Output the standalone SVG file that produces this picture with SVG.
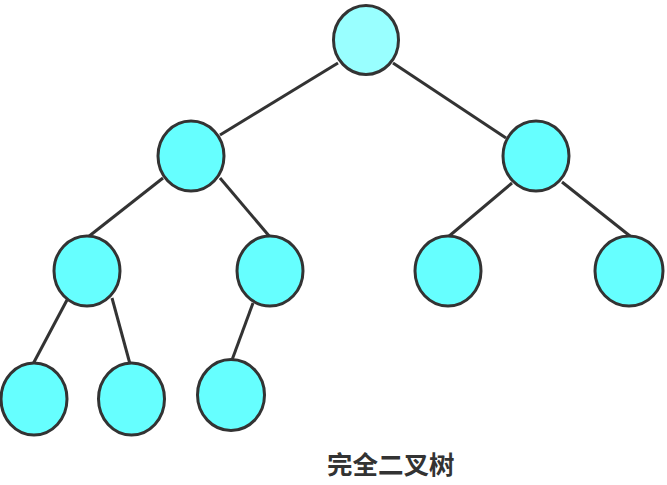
<svg xmlns="http://www.w3.org/2000/svg" width="667" height="485" viewBox="0 0 667 485">
<style>
.n{fill:#66FFFF;stroke:#333333;stroke-width:3}
.r{fill:#99FFFF}
.e{stroke:#333333;stroke-width:3;fill:none}
.t{font-family:"Liberation Sans","Noto Sans CJK SC",sans-serif;font-size:25.5px;font-weight:bold;fill:#333333}
</style>
<rect width="667" height="485" fill="#ffffff"/>
<g id="connectors">
<line class="e" x1="338" y1="63" x2="220" y2="135"/>
<line class="e" x1="393" y1="63" x2="506" y2="138"/>
<line class="e" x1="163" y1="178" x2="88" y2="237"/>
<line class="e" x1="220" y1="178" x2="270" y2="237"/>
<line class="e" x1="512" y1="183" x2="448" y2="237"/>
<line class="e" x1="562" y1="182" x2="630" y2="236"/>
<line class="e" x1="67" y1="300" x2="33" y2="364"/>
<line class="e" x1="112" y1="298" x2="130" y2="364"/>
<line class="e" x1="253" y1="303" x2="232" y2="360"/>
</g>
<g id="root"><ellipse class="n r" cx="366" cy="40" rx="32.5" ry="34.5"/></g>
<g id="n2"><ellipse class="n" cx="191" cy="156" rx="33" ry="35"/></g>
<g id="n3"><ellipse class="n" cx="536" cy="156" rx="33" ry="35"/></g>
<g id="n4"><ellipse class="n" cx="87" cy="271" rx="33" ry="35"/></g>
<g id="n5"><ellipse class="n" cx="270" cy="271" rx="33" ry="35"/></g>
<g id="n6"><ellipse class="n" cx="448" cy="271" rx="33" ry="35"/></g>
<g id="n7"><ellipse class="n" cx="629" cy="271" rx="34" ry="35"/></g>
<g id="n8"><ellipse class="n" cx="34" cy="399" rx="33" ry="36"/></g>
<g id="n9"><ellipse class="n" cx="131.5" cy="399" rx="33" ry="36"/></g>
<g id="n10"><ellipse class="n" cx="231" cy="395" rx="33.5" ry="35.5"/></g>
<text class="t" x="327" y="474">完全二叉树</text>
</svg>
